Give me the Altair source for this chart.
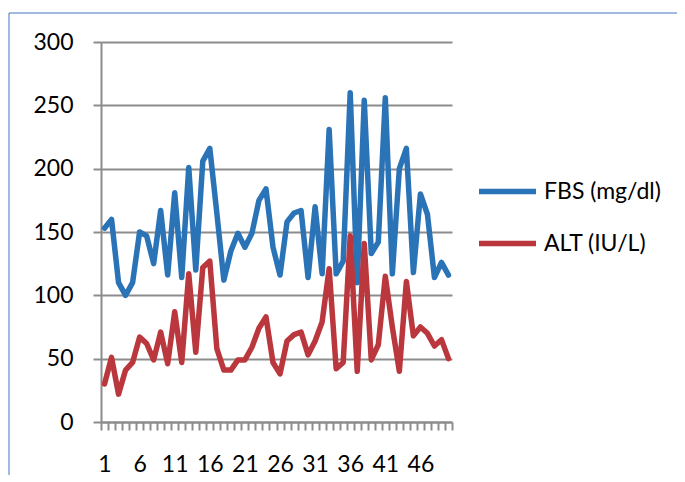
import altair as alt
import pandas as pd

# ---- data ----
series_names = ["FBS (mg/dl)", "ALT (IU/L)"]
x_index = list(range(1, 51))
fbs = [153, 160, 110, 100, 110, 150, 147, 125, 167, 116,
       181, 114, 201, 120, 206, 216, 165, 112, 135, 149,
       138, 149, 175, 184, 138, 116, 158, 165, 167, 114,
       170, 117, 231, 117, 127, 260, 110, 254, 133, 142,
       256, 117, 200, 216, 118, 180, 164, 114, 126, 116]
alt_vals = [30, 51, 22, 41, 47, 67, 62, 49, 71, 46,
            87, 47, 117, 55, 122, 127, 58, 41, 41, 49,
            49, 59, 74, 83, 47, 38, 64, 69, 71, 53,
            64, 79, 121, 42, 47, 147, 40, 141, 49, 61,
            115, 75, 40, 111, 68, 75, 70, 60, 65, 50]
x_labels = [1, 6, 11, 16, 21, 26, 31, 36, 41, 46]
y_ticks = [0, 50, 100, 150, 200, 250, 300]
colors = ["#2B73B7", "#BA373D"]

rows = []
for name, vals in zip(series_names, [fbs, alt_vals]):
    for i, v in zip(x_index, vals):
        rows.append({"idx": i, "value": v, "series": name})
df = pd.DataFrame(rows)

FONT = "Lato"
GRID = "#8C8C8C"
xscale = alt.Scale(domain=[0.5, 50.5], nice=False, zero=False)
yscale = alt.Scale(domain=[0, 300], nice=False)
half_ticks = [i + 0.5 for i in range(0, 51)]

y_axis = alt.Axis(values=y_ticks, title=None, grid=True, gridColor=GRID, gridWidth=2,
                  ticks=True, tickSize=8, tickColor=GRID, tickWidth=2,
                  domain=True, domainColor=GRID, domainWidth=2, orient="left",
                  labelFont=FONT, labelFontSize=23, labelColor="#000000",
                  labelPadding=20)

lines = alt.Chart(df).mark_line(strokeWidth=5.5, strokeJoin="round", strokeCap="round").encode(
    x=alt.X("idx:Q", scale=xscale,
            axis=alt.Axis(values=half_ticks, labels=False, title=None, grid=False,
                          orient="bottom",
                          ticks=True, tickSize=8, tickColor=GRID, tickWidth=2,
                          domain=True, domainColor=GRID, domainWidth=2)),
    y=alt.Y("value:Q", scale=yscale, axis=y_axis),
    color=alt.Color("series:N",
                    scale=alt.Scale(domain=series_names, range=colors),
                    legend=alt.Legend(title=None, orient="none", legendX=375, legendY=118,
                                      symbolType="stroke", symbolSize=3249, symbolStrokeWidth=5.5,
                                      labelFont=FONT, labelFontSize=23, labelColor="#000000",
                                      labelOffset=5, rowPadding=8, padding=0)),
    order="idx:Q",
)

labels_layer = alt.Chart(df).mark_point(opacity=0).encode(
    x=alt.X("idx:Q", scale=xscale,
            axis=alt.Axis(values=x_labels, title=None, grid=False, ticks=False, tickSize=0,
                          orient="bottom",
                          domain=False, labelFont=FONT, labelFontSize=23,
                          labelColor="#000000", labelPadding=31)),
    y=alt.Y("value:Q", scale=yscale, axis=y_axis),
)

frame_df = pd.DataFrame({"k": [0]})
top_border = alt.Chart(frame_df).mark_rule(color="#4472C4", strokeWidth=1).encode(
    x=alt.value(-92), x2=alt.value(590), y=alt.value(-29))
left_border = alt.Chart(frame_df).mark_rule(color="#4472C4", strokeWidth=1).encode(
    x=alt.value(-92), y=alt.value(-29), y2=alt.value(450))

chart = alt.layer(top_border, left_border, lines, labels_layer).resolve_axis(
    x="independent"
).properties(
    width=351, height=380,
    autosize=alt.AutoSizeParams(type="none"),
    padding={"left": 93, "top": 34, "right": 225, "bottom": 53},
    background="white",
).configure_view(strokeWidth=0, stroke=None)

chart.save("out.html", embed_options={"renderer": "svg", "actions": False})
